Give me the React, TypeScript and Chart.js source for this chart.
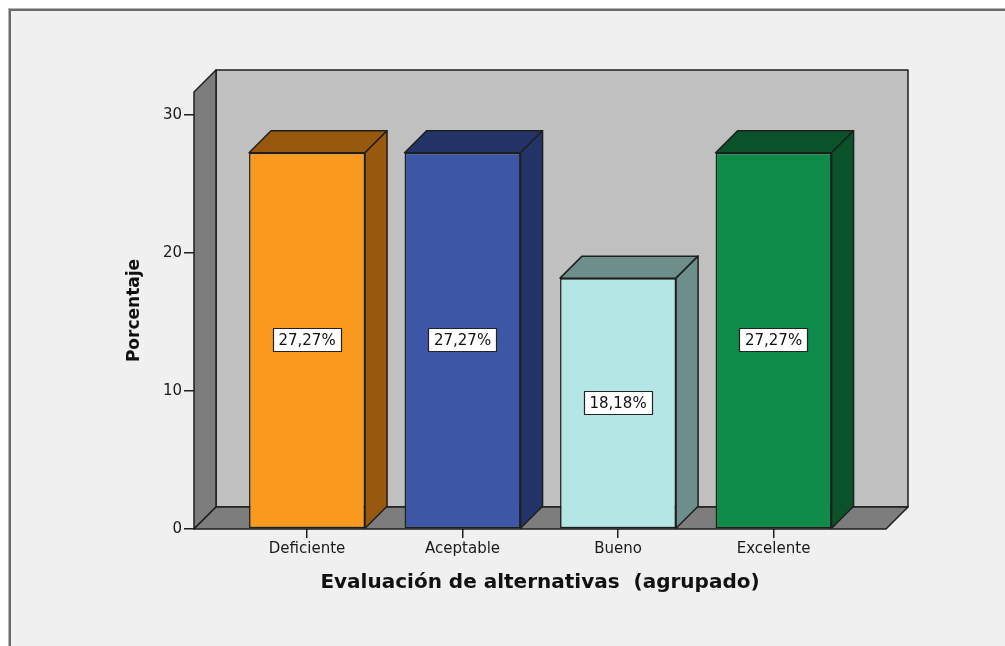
import { useEffect, useRef } from "react";
import { Chart, registerables } from "chart.js";

Chart.register(...registerables);

const categories = ["Deficiente", "Aceptable", "Bueno", "Excelente"];
const percentages = [27.27, 27.27, 18.18, 27.27];
const yTicks = [0, 10, 20, 30];
const frontColors = ["#F9991E", "#3D56A6", "#B4E6E6", "#0F8C4A"];
const sideColors = ["#98590F", "#253468", "#6E8E8C", "#0A532A"];
const xTitle = "Evaluación de alternativas  (agrupado)";
const yTitle = "Porcentaje";

const DEPTH = 22;
const FONT = "DejaVu Sans";
const LINE = "#1e1e1e";

function poly(ctx: CanvasRenderingContext2D, pts: number[][], fill: string) {
  ctx.beginPath();
  ctx.moveTo(pts[0][0], pts[0][1]);
  for (let i = 1; i < pts.length; i++) ctx.lineTo(pts[i][0], pts[i][1]);
  ctx.closePath();
  ctx.fillStyle = fill;
  ctx.fill();
  ctx.stroke();
}

const threeD = {
  id: "threeD",
  beforeDraw(chart: any) {
    const { ctx, width, height } = chart;
    ctx.save();
    ctx.fillStyle = "#ffffff";
    ctx.fillRect(0, 0, width, height);
    ctx.fillStyle = "#f0f0f0";
    ctx.fillRect(9, 9, width, height);
    ctx.fillStyle = "#b4b4b4";
    ctx.fillRect(8, 8, width, 1);
    ctx.fillRect(8, 8, 1, height);
    ctx.fillStyle = "#6a6a6a";
    ctx.fillRect(9, 9, width, 2);
    ctx.fillRect(9, 9, 2, height);
    ctx.restore();
  },
  beforeDatasetsDraw(chart: any) {
    const { ctx } = chart;
    const { left, right, top, bottom } = chart.chartArea;
    const d = DEPTH;
    ctx.save();
    ctx.lineWidth = 1.5;
    ctx.strokeStyle = LINE;
    ctx.lineJoin = "round";
    poly(ctx, [[left + d, top - d], [right + d, top - d], [right + d, bottom - d], [left + d, bottom - d]], "#c0c0c0");
    poly(ctx, [[left, top], [left + d, top - d], [left + d, bottom - d], [left, bottom]], "#7d7d7d");
    poly(ctx, [[left, bottom], [left + d, bottom - d], [right + d, bottom - d], [right, bottom]], "#7d7d7d");
    ctx.restore();
  },
  afterDatasetsDraw(chart: any) {
    const { ctx } = chart;
    const d = DEPTH;
    const meta = chart.getDatasetMeta(0);
    ctx.save();
    ctx.lineWidth = 1.5;
    ctx.strokeStyle = LINE;
    ctx.lineJoin = "round";
    meta.data.forEach((bar: any, i: number) => {
      const { x, y, base, width } = bar.getProps(["x", "y", "base", "width"], true);
      const l = x - width / 2;
      const r = x + width / 2;
      poly(ctx, [[l, y], [l + d, y - d], [r + d, y - d], [r, y]], sideColors[i]);
      poly(ctx, [[r, y], [r + d, y - d], [r + d, base - d], [r, base]], sideColors[i]);
    });
    ctx.font = `15px "${FONT}"`;
    ctx.textAlign = "center";
    ctx.textBaseline = "middle";
    meta.data.forEach((bar: any, i: number) => {
      const { x, y, base } = bar.getProps(["x", "y", "base"], true);
      const label = percentages[i].toFixed(2).replace(".", ",") + "%";
      const tw = ctx.measureText(label).width;
      const bw = Math.round(tw + 12);
      const bh = 24;
      const cy = Math.round((y + base) / 2);
      const bx = Math.round(x - bw / 2);
      ctx.fillStyle = "#ffffff";
      ctx.fillRect(bx, cy - bh / 2, bw, bh);
      ctx.lineWidth = 1.2;
      ctx.strokeStyle = "#222";
      ctx.strokeRect(bx + 0.5, cy - bh / 2 + 0.5, bw - 1, bh - 1);
      ctx.fillStyle = "#111";
      ctx.fillText(label, x, cy + 1);
    });
    ctx.restore();
  },
};

export default function App() {
  const ref = useRef<HTMLCanvasElement | null>(null);

  useEffect(() => {
    if (!ref.current) return;
    const chart = new Chart(ref.current, {
      type: "bar",
      data: {
        datasets: [
          {
            data: percentages.map((v, i) => ({ x: i, y: v })) as any,
            backgroundColor: frontColors,
            borderColor: LINE,
            borderWidth: 1.5,
            borderSkipped: false,
            categoryPercentage: 1,
            barPercentage: 0.746,
          },
        ],
      },
      options: {
        animation: false,
        responsive: false,
        devicePixelRatio: 1,
        layout: { padding: { top: 92, right: 119, left: 0, bottom: 0 } },
        plugins: { legend: { display: false }, tooltip: { enabled: false } },
        scales: {
          x: {
            type: "linear",
            offset: false,
            min: -0.727,
            max: 3.723,
            afterBuildTicks: (s: any) => {
              s.ticks = categories.map((_, i) => ({ value: i }));
            },
            afterFit: (s: any) => {
              s.height = 117;
            },
            border: { display: false },
            grid: { offset: false, drawOnChartArea: false, drawTicks: true, tickLength: 9, color: LINE, lineWidth: 1.5 },
            ticks: {
              callback: (v: any) => categories[Math.round(Number(v))],
              color: "#1a1a1a",
              font: { family: FONT, size: 15 },
              padding: 2,
              maxRotation: 0,
              autoSkip: false,
            },
            title: {
              display: true,
              text: xTitle,
              color: "#111",
              font: { family: FONT, size: 20, weight: "bold" },
              padding: { top: 0, bottom: 51 },
            },
          },
          y: {
            type: "linear",
            min: 0,
            max: 31.67,
            afterBuildTicks: (s: any) => {
              s.ticks = yTicks.map((v) => ({ value: v }));
            },
            afterFit: (s: any) => {
              s.width = 194;
            },
            border: { display: false },
            grid: { drawOnChartArea: false, drawTicks: true, tickLength: 10, color: LINE, lineWidth: 1.5 },
            ticks: {
              color: "#1a1a1a",
              font: { family: FONT, size: 15 },
              padding: 2,
            },
            title: {
              display: true,
              text: yTitle,
              color: "#111",
              font: { family: FONT, size: 17, weight: "bold" },
              padding: { top: 124, bottom: 0 },
            },
          },
        },
      } as any,
      plugins: [threeD as any],
    });
    return () => chart.destroy();
  }, []);

  return (
    <div style={{ position: "absolute", left: 0, top: 0, width: 1005, height: 646 }}>
      <canvas ref={ref} width={1005} height={646} style={{ display: "block", width: 1005, height: 646 }} />
    </div>
  );
}
